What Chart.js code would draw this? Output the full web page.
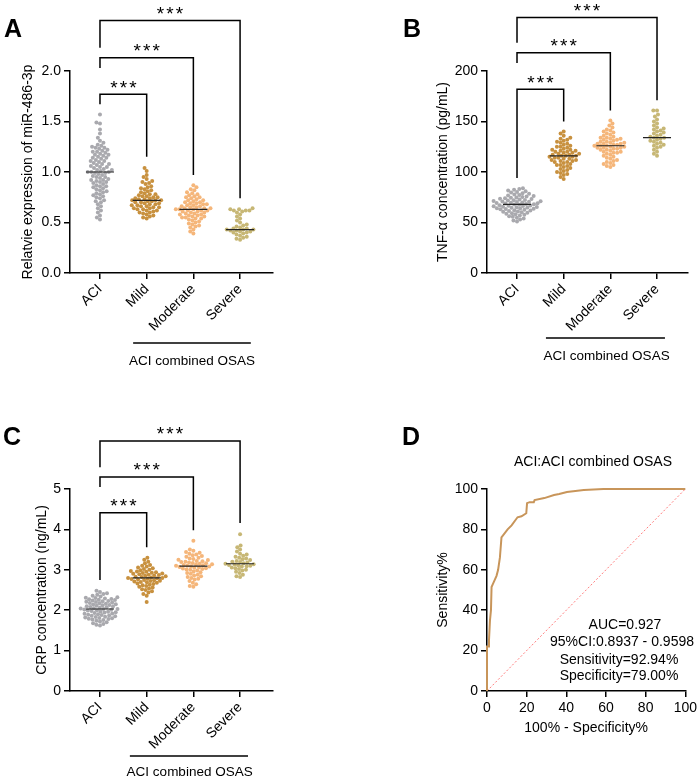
<!DOCTYPE html>
<html>
<head>
<meta charset="utf-8">
<script src="https://cdn.jsdelivr.net/npm/chart.js@4.4.0/dist/chart.umd.min.js"></script>
<style>
  body { margin: 0; background: #fff; }
  #wrap { position: relative; width: 700px; height: 779px; }
  canvas { position: absolute; }
</style>
</head>
<body>
<div id="wrap">
  <canvas id="panelA" width="350" height="390" style="left:0;top:0"></canvas>
  <canvas id="panelB" width="350" height="390" style="left:350px;top:0"></canvas>
  <canvas id="panelC" width="350" height="389" style="left:0;top:390px"></canvas>
  <canvas id="panelD" width="350" height="389" style="left:350px;top:390px"></canvas>
</div>
<script>
// categories and colours
const groups = ['ACI', 'Mild', 'Moderate', 'Severe'];
const groupColors = ['#a9a9ae', '#c8913f', '#f5b67a', '#c7b775'];

// A: relative expression of miR-486-3p
const mirAci = [1.57,1.49,1.48,1.42,1.38,1.34,1.31,1.29,1.27,1.26,1.25,1.24,1.24,1.23,1.22,1.21,1.20,1.20,1.19,1.18,1.17,1.17,1.16,1.15,1.14,1.14,1.13,1.12,1.11,1.11,1.10,1.09,1.08,1.08,1.07,1.06,1.05,1.05,1.04,1.03,1.02,1.02,1.01,1.00,1.00,1.00,0.99,0.99,0.98,0.97,0.96,0.95,0.95,0.94,0.93,0.92,0.92,0.91,0.90,0.90,0.89,0.88,0.87,0.86,0.86,0.85,0.84,0.83,0.82,0.81,0.80,0.79,0.78,0.77,0.76,0.75,0.74,0.72,0.71,0.70,0.68,0.66,0.64,0.62,0.60,0.57,0.55,0.53];
const mirMild = [1.04,1.01,0.97,0.95,0.93,0.91,0.90,0.89,0.88,0.86,0.85,0.84,0.83,0.82,0.81,0.80,0.79,0.78,0.78,0.77,0.76,0.76,0.75,0.75,0.74,0.74,0.73,0.73,0.72,0.72,0.72,0.71,0.71,0.70,0.70,0.69,0.69,0.68,0.68,0.67,0.67,0.66,0.66,0.65,0.65,0.64,0.64,0.63,0.63,0.62,0.62,0.61,0.60,0.60,0.59,0.58,0.57,0.56,0.55,0.54];
const mirModerate = [0.87,0.85,0.83,0.82,0.80,0.79,0.78,0.77,0.76,0.75,0.75,0.74,0.73,0.72,0.72,0.71,0.70,0.70,0.69,0.69,0.68,0.68,0.67,0.67,0.66,0.66,0.65,0.65,0.64,0.64,0.64,0.63,0.63,0.63,0.62,0.62,0.62,0.61,0.61,0.60,0.60,0.59,0.59,0.58,0.58,0.57,0.57,0.56,0.56,0.55,0.55,0.54,0.54,0.53,0.52,0.51,0.50,0.49,0.48,0.47,0.46,0.45,0.43,0.41,0.39];
const mirSevere = [0.64,0.63,0.63,0.62,0.62,0.62,0.61,0.60,0.58,0.56,0.54,0.52,0.50,0.48,0.47,0.46,0.45,0.44,0.44,0.43,0.43,0.43,0.42,0.42,0.41,0.41,0.40,0.40,0.39,0.38,0.37,0.36,0.35,0.34,0.33];
const mirMedians = [1.00, 0.72, 0.63, 0.43];

// B: TNF-alpha (pg/mL)
const tnfAci = [84.0,83.2,82.5,81.8,81.0,80.3,79.6,79.0,78.4,77.8,77.2,76.7,76.2,75.7,75.2,74.8,74.4,74.0,73.6,73.2,72.8,72.4,72.0,71.7,71.4,71.1,70.8,70.5,70.2,69.9,69.6,69.3,69.0,68.7,68.4,68.1,67.8,67.5,67.2,66.9,66.6,66.3,66.0,65.7,65.4,65.1,64.8,64.5,64.2,63.9,63.6,63.3,63.0,62.6,62.2,61.8,61.4,61.0,60.6,60.2,59.7,59.2,58.7,58.2,57.6,57.0,56.3,55.6,54.8,54.0,53.0,52.0,51.0];
const tnfMild = [140,138,136,134,133,132,131,130,129,128,127,126,125,125,124,123,122,122,121,121,120,120,119,119,118,118,117,117,116,116,116,115,115,114,114,113,113,112,112,111,111,110,110,109,108,107,107,106,105,104,103,102,101,100,99,98,97,95,93];
const tnfModerate = [151,148,146,144,142,141,140,139,138,137,136,135,134,134,133,133,132,132,131,130,130,129,129,128,128,128,127,127,126,126,126,125,125,124,124,124,123,123,122,122,121,120,120,119,119,118,117,116,115,114,113,112,111,110,109,108,107,106,105];
const tnfSevere = [161,161,157,155,152,150,148,146,144,143,142,141,140,139,138,137,136,135,134,134,133,132,131,130,129,128,127,126,125,124,122,120,118,116];
const tnfMedians = [68, 116, 126, 134];

// C: CRP (ng/mL)
const crpAci = [2.48,2.45,2.42,2.40,2.38,2.36,2.34,2.32,2.31,2.30,2.29,2.28,2.27,2.26,2.25,2.24,2.23,2.22,2.21,2.20,2.19,2.18,2.17,2.16,2.15,2.14,2.13,2.12,2.11,2.10,2.09,2.08,2.07,2.06,2.05,2.04,2.03,2.03,2.02,2.01,2.00,1.99,1.98,1.97,1.96,1.95,1.94,1.93,1.92,1.91,1.90,1.89,1.88,1.87,1.86,1.85,1.84,1.83,1.82,1.81,1.80,1.79,1.78,1.77,1.76,1.74,1.72,1.70,1.68,1.66,1.64,1.62];
const crpMild = [3.30,3.25,3.20,3.16,3.12,3.10,3.08,3.06,3.04,3.02,3.00,2.99,2.97,2.96,2.95,2.94,2.93,2.92,2.91,2.90,2.89,2.88,2.87,2.86,2.85,2.84,2.83,2.82,2.81,2.80,2.80,2.79,2.78,2.77,2.76,2.75,2.74,2.73,2.72,2.71,2.70,2.69,2.68,2.66,2.65,2.63,2.62,2.60,2.58,2.56,2.54,2.52,2.50,2.47,2.44,2.40,2.36,2.20];
const crpModerate = [3.72,3.50,3.47,3.44,3.42,3.40,3.38,3.36,3.34,3.32,3.30,3.28,3.27,3.25,3.24,3.22,3.21,3.20,3.19,3.18,3.17,3.16,3.15,3.14,3.13,3.12,3.11,3.10,3.10,3.09,3.08,3.07,3.06,3.05,3.04,3.03,3.02,3.01,3.00,2.98,2.96,2.94,2.92,2.90,2.88,2.86,2.84,2.82,2.80,2.78,2.76,2.72,2.68,2.64,2.60,2.58];
const crpSevere = [3.88,3.60,3.56,3.50,3.45,3.40,3.38,3.35,3.32,3.30,3.28,3.26,3.24,3.22,3.20,3.19,3.18,3.16,3.15,3.14,3.13,3.12,3.11,3.10,3.09,3.08,3.06,3.04,3.02,3.00,2.98,2.95,2.92,2.88,2.84,2.82];
const crpMedians = [2.03, 2.80, 3.09, 3.15];

// significance brackets: [bar level, ACI leg end, group leg end, group index]
const mirBrackets = [[1.77, 1.67, 1.15, 1], [2.13, 2.03, 0.97, 2], [2.50, 2.23, 0.74, 3]];
const tnfBrackets = [[182, 94, 150, 1], [218, 208, 161, 2], [253, 228, 171, 3]];
const crpBrackets = [[4.41, 2.75, 3.56, 1], [5.30, 5.05, 3.98, 2], [6.19, 5.54, 4.16, 3]];

// D: ROC curve (100% - specificity, sensitivity)
const rocFpr = [0, 0, 1, 1, 1.5, 2, 2.3, 3, 4.8, 5.6, 6.5, 7.3, 10.4, 12.4, 15.4, 17.4, 19.8, 20.2, 21.5, 23.6, 24, 28.9, 33.8, 36.4, 40.3, 48.8, 58.7, 100];
const rocTpr = [0, 22, 22, 25, 35, 40, 51.5, 53, 57, 60, 66, 76, 80, 82, 86, 86.5, 88, 93, 93.5, 93.5, 94.5, 95.5, 97, 97.5, 98.5, 99.5, 100, 100];
const rocStats = ['AUC=0.927', '95%CI:0.8937 - 0.9598', 'Sensitivity=92.94%', 'Specificity=79.00%'];

const FONT = '"Liberation Sans", Arial, Helvetica, sans-serif';
Chart.defaults.font.family = FONT;
Chart.defaults.font.size = 14;
Chart.defaults.color = '#000';
Chart.defaults.animation = false;

// draws brackets, stars, group line, panel letter and free text
const marks = {
  id: 'marks',
  afterDraw(chart, args, o) {
    const { ctx, chartArea, scales: { x, y } } = chart;
    ctx.save();
    ctx.strokeStyle = '#000';
    ctx.fillStyle = '#000';
    ctx.lineWidth = 1.5;
    (o.brackets || []).forEach(b => {
      const x0 = x.getPixelForValue(0), x1 = x.getPixelForValue(b[3]);
      const yt = y.getPixelForValue(b[0]);
      ctx.beginPath();
      ctx.moveTo(x0, y.getPixelForValue(b[1]));
      ctx.lineTo(x0, yt);
      ctx.lineTo(x1, yt);
      ctx.lineTo(x1, y.getPixelForValue(b[2]));
      ctx.stroke();
      ctx.font = '19px ' + FONT;
      ctx.textAlign = 'center';
      ctx.textBaseline = 'alphabetic';
      const mid = (x0 + x1) / 2;
      [-9.5, 0, 9.5].forEach(dx => ctx.fillText('*', mid + dx, yt - 0.5));
    });
    if (o.groupLine) {
      const g = o.groupLine;
      const ly = chartArea.bottom + g.lineOffset;
      ctx.beginPath();
      ctx.moveTo(x.getPixelForValue(g.from), ly);
      ctx.lineTo(x.getPixelForValue(g.to), ly);
      ctx.stroke();
      ctx.font = '13.5px ' + FONT;
      ctx.textAlign = 'center';
      ctx.textBaseline = 'middle';
      ctx.fillText('ACI combined OSAS', x.getPixelForValue(g.center), chartArea.bottom + g.textOffset);
    }
    (o.texts || []).forEach(t => {
      ctx.font = t.font;
      ctx.textAlign = t.align || 'center';
      ctx.textBaseline = t.baseline || 'middle';
      ctx.fillText(t.text, t.x, t.y);
    });
    ctx.restore();
  }
};

function axisStyle() {
  return {
    grid: { display: true, drawOnChartArea: false, color: '#000', lineWidth: 1.5, tickLength: 6 },
    border: { display: true, color: '#000', width: 1.5 }
  };
}

// spread each group's points sideways so they don't overlap (beeswarm)
function placeSwarm(chart, series, d) {
  const xs = chart.scales.x, ys = chart.scales.y;
  const unit = xs.getPixelForValue(1) - xs.getPixelForValue(0);
  series.forEach((vals, g) => {
    const ds = chart.data.datasets[g + 1];
    const placed = [];
    const order = vals.map((v, i) => i).sort((a, b) => vals[a] - vals[b]);
    order.forEach(i => {
      const py = ys.getPixelForValue(vals[i]);
      const cands = [0], blocks = [];
      placed.forEach(p => {
        const dy = p.y - py;
        if (Math.abs(dy) < d) {
          const w = Math.sqrt(d * d - dy * dy);
          blocks.push([p.x - w, p.x + w]);
          cands.push(p.x - w, p.x + w);
        }
      });
      cands.sort((a, b) => Math.abs(a) - Math.abs(b));
      const px = cands.find(c => blocks.every(b => c <= b[0] + 1e-6 || c >= b[1] - 1e-6));
      placed.push({ x: px, y: py });
      ds.data[i] = { x: g + px / unit, y: vals[i] };
    });
  });
  chart.update('none');
}

function swarmPanel(id, p) {
  const medianData = [];
  p.medians.forEach((m, i) => {
    medianData.push({ x: i - 0.3, y: m }, { x: i + 0.3, y: m }, { x: i + 0.5, y: null });
  });
  const datasets = [{
    type: 'line', data: medianData, borderColor: '#222', borderWidth: 1.2,
    pointRadius: 0, spanGaps: false
  }];
  p.series.forEach((vals, i) => {
    datasets.push({
      type: 'scatter', label: groups[i],
      data: vals.map(v => ({ x: i, y: v })),
      backgroundColor: groupColors[i], borderWidth: 0, pointRadius: 2
    });
  });
  const x = axisStyle();
  Object.assign(x, {
    type: 'linear', min: p.xMin, max: p.xMax,
    afterBuildTicks: s => { s.ticks = groups.map((g, i) => ({ value: i })); },
    afterFit: s => { s.height = 60; },
    ticks: { minRotation: 45, maxRotation: 45, padding: 2, callback: v => groups[v] }
  });
  const y = axisStyle();
  Object.assign(y, {
    min: p.yMin, max: p.yMax,
    afterFit: s => { s.width = p.yWidth; },
    title: { display: true, text: p.yTitle, font: { size: 14 } },
    ticks: { stepSize: p.step, padding: 3, callback: p.fmt }
  });
  const chart = new Chart(document.getElementById(id), {
    type: 'scatter',
    data: { datasets },
    options: {
      responsive: false,
      layout: { padding: p.padding },
      scales: { x, y },
      plugins: {
        legend: { display: false },
        tooltip: { enabled: false },
        marks: {
          brackets: p.brackets,
          groupLine: p.groupLine,
          texts: [{ text: p.letter, x: p.letterX, y: p.letterY, font: 'bold 25px ' + FONT, align: 'left', baseline: 'alphabetic' }]
        }
      }
    },
    plugins: [marks]
  });
  placeSwarm(chart, p.series, 3.7);
}

swarmPanel('panelA', {
  series: [mirAci, mirMild, mirModerate, mirSevere], medians: mirMedians, brackets: mirBrackets,
  yMin: 0, yMax: 2, step: 0.5, fmt: v => v.toFixed(1), yTitle: 'Relatvie expression of miR-486-3p',
  xMin: -0.642, xMax: 3.705, yWidth: 54,
  padding: { left: 16, top: 71, right: 77, bottom: 57 },
  groupLine: { from: 0.71, to: 3.23, center: 1.97, lineOffset: 70, textOffset: 88 },
  letter: 'A', letterX: 4, letterY: 37
});

swarmPanel('panelB', {
  series: [tnfAci, tnfMild, tnfModerate, tnfSevere], medians: tnfMedians, brackets: tnfBrackets,
  yMin: 0, yMax: 200, step: 50, fmt: v => v, yTitle: 'TNF-α concentration (pg/mL)',
  xMin: -0.643, xMax: 3.664, yWidth: 56,
  padding: { left: 81, top: 71, right: 12, bottom: 57 },
  groupLine: { from: 0.62, to: 3.17, center: 1.92, lineOffset: 65, textOffset: 83 },
  letter: 'B', letterX: 53, letterY: 37
});

swarmPanel('panelC', {
  series: [crpAci, crpMild, crpModerate, crpSevere], medians: crpMedians, brackets: crpBrackets,
  yMin: 0, yMax: 5, step: 1, fmt: v => v, yTitle: 'CRP concentration (ng/mL)',
  xMin: -0.642, xMax: 3.705, yWidth: 40,
  padding: { left: 30, top: 99, right: 77, bottom: 28 },
  groupLine: { from: 0.64, to: 3.17, center: 1.92, lineOffset: 65, textOffset: 81.5 },
  letter: 'C', letterX: 3, letterY: 55
});

// D: ROC
const rocX = axisStyle();
Object.assign(rocX, {
  type: 'linear', min: 0, max: 100,
  afterFit: s => { s.height = 50; },
  title: { display: true, text: '100% - Specificity%', font: { size: 14 } },
  ticks: { stepSize: 20, maxRotation: 0, padding: 3 }
});
const rocY = axisStyle();
Object.assign(rocY, {
  min: 0, max: 100,
  afterFit: s => { s.width = 56; },
  title: { display: true, text: 'Sensitivity%', font: { size: 14 } },
  ticks: { stepSize: 20, padding: 3 }
});
new Chart(document.getElementById('panelD'), {
  type: 'scatter',
  data: {
    datasets: [{
      label: 'ROC', showLine: true, data: rocFpr.map((v, i) => ({ x: v, y: rocTpr[i] })),
      borderColor: '#c8955a', borderWidth: 2, pointRadius: 0, clip: 4
    }, {
      label: 'Reference', showLine: true, data: [{ x: 0, y: 0 }, { x: 100, y: 100 }],
      borderColor: '#ff5a5a', borderWidth: 0.8, borderDash: [2, 2], pointRadius: 0
    }]
  },
  options: {
    responsive: false,
    layout: { padding: { left: 81, top: 99, right: 12, bottom: 38 } },
    scales: { x: rocX, y: rocY },
    plugins: {
      legend: { display: false },
      tooltip: { enabled: false },
      marks: {
        texts: [
          { text: 'D', x: 52, y: 55, font: 'bold 25px ' + FONT, align: 'left', baseline: 'alphabetic' },
          { text: 'ACI:ACI combined OSAS', x: 243, y: 72, font: '14px ' + FONT },
          { text: rocStats[0], x: 275, y: 235, font: '14px ' + FONT },
          { text: rocStats[1], x: 272, y: 252, font: '14px ' + FONT },
          { text: rocStats[2], x: 269, y: 270, font: '14px ' + FONT },
          { text: rocStats[3], x: 269, y: 286, font: '14px ' + FONT }
        ]
      }
    }
  },
  plugins: [marks]
});
</script>
</body>
</html>
